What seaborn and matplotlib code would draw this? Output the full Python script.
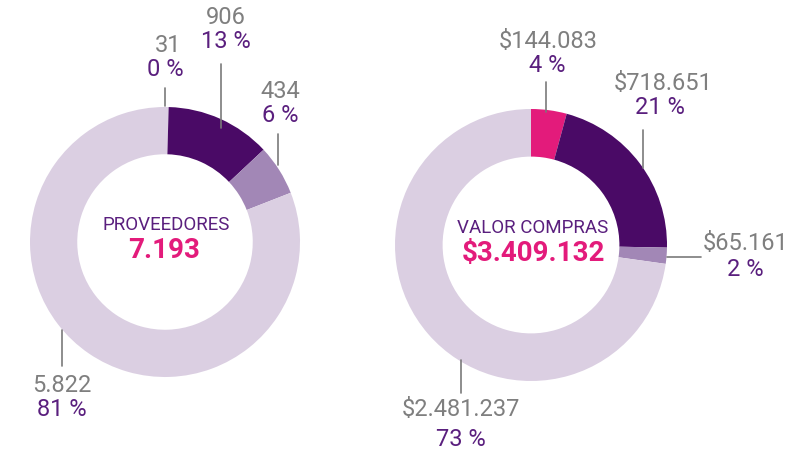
import matplotlib
matplotlib.use("Agg")
import matplotlib.pyplot as plt
import seaborn as sns

# Data
prov_values = [31, 906, 434, 5822]
compras_values = [144083, 718651, 65161, 2481237]
prov_title = "PROVEEDORES"
compras_title = "VALOR COMPRAS"

prov_colors = ["#DBCFE2", "#4A0A66", "#A287B6", "#DBCFE2"]
compras_colors = ["#E31B7B", "#4A0A66", "#A287B6", "#DBCFE2"]
gray = "#7f7f7f"
purple = "#5A1F7E"
pink = "#E31B7B"

sns.set_theme(style="white")
plt.rcParams["font.family"] = ["Roboto", "DejaVu Sans"]

W, H = 811, 453
fig = plt.figure(figsize=(W / 100, H / 100), dpi=100)
ax = fig.add_axes([0, 0, 1, 1])


def fmt(v, money=False):
    s = f"{v:,}".replace(",", ".")
    return "$" + s if money else s


def pcts(vals):
    tot = sum(vals)
    return [f"{round(100 * v / tot)} %" for v in vals]


def donut(vals, colors, cx, cy, r):
    ax.pie(vals, colors=colors, startangle=90, counterclock=False,
           radius=r, center=(cx, H - cy),
           wedgeprops=dict(width=r * 0.35, edgecolor="none", linewidth=0))


donut(prov_values, prov_colors, 165, 242, 135)
donut(compras_values, compras_colors, 531, 245, 136)

# label layout in pixels: value text pos, pct text pos, leader line segment
prov_layout = [
    ((168, 46), (165, 69), [(165, 88), (165, 106)]),
    ((226, 18), (226, 42), [(221, 64), (221, 128)]),
    ((280, 92), (280, 115), [(278, 134), (278, 165)]),
    ((62, 386), (62, 410), [(62, 330), (62, 366)]),
]
compras_layout = [
    ((548, 42), (547, 66), [(546, 82), (546, 112)]),
    ((663, 84), (660, 108), [(643, 130), (643, 168)]),
    ((746, 244), (745, 269), [(667, 257), (701, 257)]),
    ((461, 410), (461, 440), [(461, 360), (461, 393)]),
]

for vals, layout, money in [(prov_values, prov_layout, False),
                            (compras_values, compras_layout, True)]:
    for v, p, (vpos, ppos, seg) in zip(vals, pcts(vals), layout):
        ax.text(vpos[0], H - vpos[1], fmt(v, money), color=gray, fontsize=17,
                ha="center", va="center")
        ax.text(ppos[0], H - ppos[1], p, color=purple, fontsize=17,
                ha="center", va="center")
        ax.plot([seg[0][0], seg[1][0]], [H - seg[0][1], H - seg[1][1]],
                color="#7a7a7a", lw=1.2)

# centre labels
ax.text(166, H - 225, prov_title, color=purple, fontsize=13.5, ha="center",
        va="center")
ax.text(164, H - 251, fmt(sum(prov_values)), color=pink, fontsize=20,
        ha="center", va="center", fontweight="bold")
ax.text(533, H - 228, compras_title, color=purple, fontsize=13.5, ha="center",
        va="center")
ax.text(533, H - 254, fmt(sum(compras_values), True), color=pink, fontsize=20,
        ha="center", va="center", fontweight="bold")

ax.set_xlim(0, W)
ax.set_ylim(0, H)
ax.set_aspect("equal")
ax.axis("off")

fig.savefig("out.png", dpi=100)
